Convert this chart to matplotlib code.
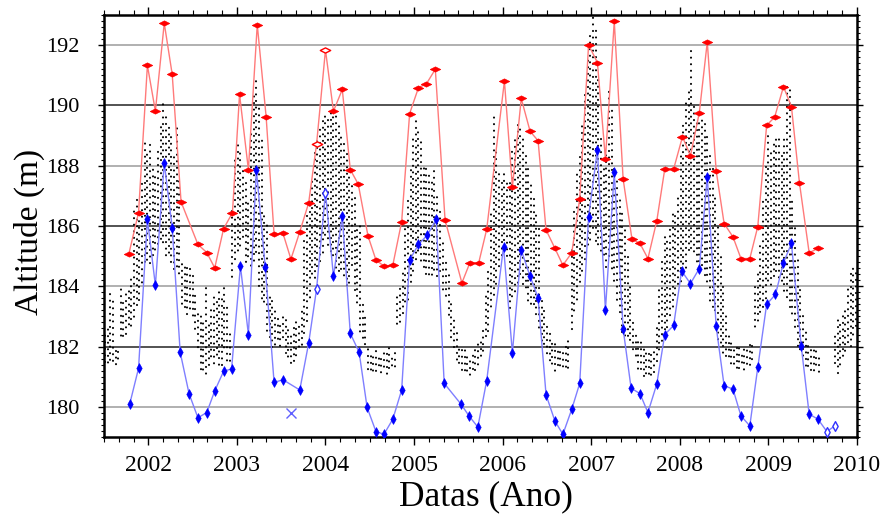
import numpy as np
import matplotlib
matplotlib.use("Agg")
import matplotlib.pyplot as plt
from matplotlib.path import Path
from matplotlib.ticker import MultipleLocator

# ---------------- data ----------------
red_t = [2001.78, 2001.89, 2001.99, 2002.08, 2002.18, 2002.27, 2002.37, 2002.56, 2002.66, 2002.75,
         2002.85, 2002.95, 2003.03, 2003.13, 2003.23, 2003.33, 2003.42, 2003.52, 2003.61, 2003.71,
         2003.81, 2003.90, 2004.00, 2004.09, 2004.19, 2004.28, 2004.37, 2004.48, 2004.57, 2004.66,
         2004.76, 2004.86, 2004.95, 2005.05, 2005.14, 2005.24, 2005.35, 2005.54, 2005.63, 2005.73,
         2005.82, 2006.02, 2006.11, 2006.21, 2006.31, 2006.40, 2006.49, 2006.59, 2006.68, 2006.78,
         2006.87, 2006.97, 2007.07, 2007.16, 2007.26, 2007.36, 2007.46, 2007.55, 2007.64, 2007.74,
         2007.83, 2007.93, 2008.03, 2008.12, 2008.22, 2008.31, 2008.41, 2008.50, 2008.60, 2008.69,
         2008.79, 2008.88, 2008.98, 2009.07, 2009.17, 2009.26, 2009.35, 2009.46, 2009.56]
red_v = [185.07, 186.44, 191.33, 189.81, 192.73, 191.03, 186.80, 185.39, 185.12, 184.61,
         185.91, 186.44, 190.37, 187.87, 192.68, 189.63, 185.73, 185.76, 184.90, 185.81,
         186.76, 188.73, 191.84, 189.81, 190.53, 187.87, 187.39, 185.67, 184.87, 184.67,
         184.70, 186.14, 189.73, 190.59, 190.72, 191.20, 186.20, 184.11, 184.78, 184.78,
         185.89, 190.81, 187.29, 190.23, 189.14, 188.83, 185.87, 185.26, 184.70, 185.11,
         186.90, 192.01, 191.42, 188.22, 192.79, 187.56, 185.56, 185.42, 184.92, 186.17,
         187.89, 187.89, 188.96, 188.33, 189.76, 192.11, 187.84, 186.08, 185.64, 184.92,
         184.92, 185.98, 189.34, 189.61, 190.62, 189.96, 187.44, 185.11, 185.26]
red_hollow_t = [2003.90, 2004.00]

blue_t = [2001.79, 2001.89, 2001.99, 2002.08, 2002.18, 2002.27, 2002.36, 2002.46, 2002.56, 2002.66,
          2002.75, 2002.85, 2002.94, 2003.04, 2003.13, 2003.22, 2003.32, 2003.42, 2003.52, 2003.71,
          2003.81, 2003.90, 2004.00, 2004.09, 2004.19, 2004.28, 2004.38, 2004.47, 2004.57, 2004.66,
          2004.76, 2004.86, 2004.95, 2005.05, 2005.15, 2005.25, 2005.34, 2005.53, 2005.62, 2005.72,
          2005.82, 2006.01, 2006.11, 2006.21, 2006.31, 2006.40, 2006.49, 2006.59, 2006.68, 2006.78,
          2006.87, 2006.97, 2007.07, 2007.16, 2007.26, 2007.36, 2007.45, 2007.55, 2007.64, 2007.74,
          2007.83, 2007.93, 2008.02, 2008.12, 2008.22, 2008.31, 2008.41, 2008.50, 2008.60, 2008.69,
          2008.79, 2008.88, 2008.98, 2009.08, 2009.17, 2009.26, 2009.37, 2009.46, 2009.56, 2009.66,
          2009.75]
blue_v = [180.09, 181.28, 186.22, 184.03, 188.09, 185.95, 181.81, 180.44, 179.64, 179.81,
          180.53, 181.18, 181.26, 184.67, 182.40, 187.87, 184.64, 180.81, 180.90, 180.56,
          182.11, 183.92, 187.11, 184.33, 186.33, 182.44, 181.81, 179.98, 179.18, 179.09,
          179.59, 180.56, 184.87, 185.39, 185.70, 186.22, 180.78, 180.09, 179.70, 179.33,
          180.87, 185.31, 181.79, 185.20, 184.33, 183.62, 180.40, 179.53, 179.09, 179.92,
          180.78, 186.31, 188.53, 183.20, 187.78, 182.59, 180.62, 180.44, 179.81, 180.76,
          182.40, 182.70, 184.51, 184.09, 184.59, 187.64, 182.67, 180.70, 180.59, 179.70,
          179.37, 181.31, 183.40, 183.73, 184.78, 185.42, 182.03, 179.76, 179.59, 179.18,
          179.37]
blue_hollow_t = [2003.90, 2004.00, 2009.66, 2009.75]
blue_cross_t = [2003.61]
blue_cross_v = [179.81]

# black dots: each satellite pass drawn as a column of dots between low and high values
dot_t = [2001.51, 2001.54, 2001.57, 2001.60, 2001.63, 2001.66, 2001.69, 2001.72, 2001.75, 2001.78,
         2001.81, 2001.84, 2001.87, 2001.90, 2001.93, 2001.96, 2001.99, 2002.02, 2002.05, 2002.08,
         2002.11, 2002.14, 2002.17, 2002.20, 2002.23, 2002.26, 2002.29, 2002.32, 2002.35, 2002.38,
         2002.41, 2002.44, 2002.47, 2002.50, 2002.53, 2002.56, 2002.59, 2002.62, 2002.65, 2002.68,
         2002.71, 2002.74, 2002.77, 2002.80, 2002.83, 2002.86, 2002.89, 2002.92, 2002.95, 2002.98,
         2003.01, 2003.04, 2003.07, 2003.10, 2003.13, 2003.16, 2003.19, 2003.22, 2003.25, 2003.28,
         2003.31, 2003.34, 2003.37, 2003.40, 2003.43, 2003.46, 2003.49, 2003.52, 2003.55, 2003.58,
         2003.61, 2003.64, 2003.67, 2003.70, 2003.73, 2003.76, 2003.79, 2003.82, 2003.85, 2003.88,
         2003.91, 2003.94, 2003.97, 2004.00, 2004.03, 2004.06, 2004.09, 2004.12, 2004.15, 2004.18,
         2004.21, 2004.24, 2004.27, 2004.30, 2004.33, 2004.36, 2004.39, 2004.42, 2004.45, 2004.48,
         2004.51, 2004.54, 2004.57, 2004.60, 2004.63, 2004.66, 2004.69, 2004.72, 2004.75, 2004.78,
         2004.81, 2004.84, 2004.87, 2004.90, 2004.93, 2004.96, 2004.99, 2005.02, 2005.05, 2005.08,
         2005.11, 2005.14, 2005.17, 2005.20, 2005.23, 2005.26, 2005.29, 2005.33, 2005.36, 2005.39,
         2005.42, 2005.45, 2005.48, 2005.51, 2005.54, 2005.57, 2005.60, 2005.63, 2005.66, 2005.69,
         2005.72, 2005.75, 2005.78, 2005.81, 2005.84, 2005.87, 2005.90, 2005.93, 2005.96, 2005.99,
         2006.02, 2006.05, 2006.08, 2006.11, 2006.14, 2006.17, 2006.20, 2006.23, 2006.26, 2006.29,
         2006.32, 2006.35, 2006.38, 2006.41, 2006.44, 2006.47, 2006.50, 2006.53, 2006.56, 2006.59,
         2006.62, 2006.65, 2006.68, 2006.71, 2006.74, 2006.78, 2006.81, 2006.84, 2006.87, 2006.90,
         2006.93, 2006.96, 2006.99, 2007.02, 2007.05, 2007.08, 2007.11, 2007.14, 2007.17, 2007.20,
         2007.23, 2007.26, 2007.29, 2007.32, 2007.35, 2007.38, 2007.41, 2007.44, 2007.47, 2007.50,
         2007.53, 2007.56, 2007.59, 2007.62, 2007.65, 2007.68, 2007.71, 2007.74, 2007.77, 2007.80,
         2007.83, 2007.86, 2007.89, 2007.92, 2007.95, 2007.98, 2008.01, 2008.04, 2008.07, 2008.10,
         2008.13, 2008.16, 2008.19, 2008.22, 2008.25, 2008.28, 2008.31, 2008.34, 2008.37, 2008.40,
         2008.43, 2008.46, 2008.49, 2008.52, 2008.55, 2008.58, 2008.61, 2008.64, 2008.67, 2008.70,
         2008.73, 2008.76, 2008.79, 2008.82, 2008.85, 2008.88, 2008.91, 2008.94, 2008.97, 2009.00,
         2009.03, 2009.06, 2009.09, 2009.12, 2009.15, 2009.18, 2009.21, 2009.24, 2009.27, 2009.30,
         2009.33, 2009.36, 2009.39, 2009.42, 2009.45, 2009.48, 2009.51, 2009.54, 2009.57, 2009.75,
         2009.78, 2009.81, 2009.84, 2009.87, 2009.90, 2009.93, 2009.96, 2009.99]
dot_lo = [181.5, 181.4, 181.4, 181.5, 181.3, 181.4, 182.3, 182.2, 182.4, 182.6,
          182.5, 182.9, 183.2, 183.5, 184.0, 184.6, 184.8, 184.6, 185.0, 185.1,
          185.2, 185.5, 185.3, 185.0, 185.0, 184.6, 184.5, 184.5, 184.4, 183.3,
          183.1, 183.0, 183.1, 183.0, 182.5, 181.8, 181.2, 181.1, 181.1, 181.3,
          181.5, 181.4, 181.6, 181.4, 181.3, 181.8, 181.5, 181.4, 184.3, 184.8,
          185.0, 185.3, 185.5, 184.8, 184.9, 184.5, 184.8, 185.0, 184.0, 183.5,
          183.3, 182.5, 182.2, 182.0, 182.0, 182.1, 182.0, 182.2, 181.8, 181.6,
          181.3, 181.5, 181.6, 181.8, 182.0, 182.3, 182.8, 183.5, 184.2, 184.2,
          184.5, 184.8, 185.0, 185.5, 185.3, 185.0, 185.0, 184.5, 184.3, 184.5,
          184.2, 184.0, 184.0, 184.5, 183.8, 183.3, 182.5, 182.2, 181.9, 181.2,
          181.1, 181.2, 181.1, 181.2, 181.1, 181.2, 181.1, 181.2, 181.2, 181.3,
          182.6, 182.8, 183.0, 183.3, 183.5, 184.0, 184.5, 184.8, 185.0, 184.8,
          184.5, 184.4, 184.3, 184.2, 184.5, 184.2, 184.5, 183.8, 183.5, 183.0,
          182.2, 182.0, 181.5, 181.3, 181.2, 181.1, 181.0, 181.0, 181.1, 181.2,
          181.3, 181.5, 181.8, 182.2, 182.5, 183.2, 183.5, 184.0, 184.5, 185.0,
          185.2, 184.8, 183.2, 183.5, 183.8, 184.0, 184.2, 184.0, 183.8, 183.5,
          183.3, 183.2, 183.0, 182.5, 182.2, 182.0, 181.6, 181.5, 181.3, 181.2,
          181.3, 181.2, 181.3, 181.2, 181.3, 182.5, 183.0, 183.5, 184.0, 184.5,
          184.8, 185.2, 185.5, 185.8, 185.5, 185.3, 185.0, 185.0, 184.5, 185.0,
          184.5, 184.0, 183.5, 183.0, 182.5, 182.3, 182.2, 182.2, 181.8, 181.5,
          181.2, 181.1, 181.0, 181.0, 180.9, 181.0, 181.0, 181.5, 181.8, 182.0,
          182.3, 182.5, 183.0, 183.2, 183.5, 184.0, 184.0, 184.5, 184.5, 185.0,
          185.2, 185.0, 184.8, 184.5, 184.5, 184.3, 184.0, 183.5, 183.2, 183.0,
          182.2, 182.0, 181.8, 181.6, 181.5, 181.4, 181.3, 181.3, 181.2, 181.3,
          181.2, 181.3, 181.4, 181.5, 182.5, 182.8, 183.0, 183.3, 183.5, 184.0,
          184.0, 184.2, 184.5, 184.2, 184.0, 183.8, 183.5, 183.3, 183.0, 182.5,
          182.0, 181.8, 181.5, 181.3, 181.2, 181.2, 181.1, 181.2, 181.1, 181.3,
          181.1, 181.3, 181.5, 181.8, 182.0, 182.0, 182.3, 182.5]
dot_hi = [182.5, 182.7, 183.8, 183.6, 182.0, 182.0, 183.9, 183.5, 183.8, 184.0,
          184.3, 186.6, 186.9, 186.5, 187.5, 188.8, 188.5, 188.9, 188.0, 187.8,
          188.5, 189.5, 190.2, 189.8, 189.3, 189.0, 188.5, 189.3, 187.5, 184.9,
          184.8, 184.7, 184.6, 184.4, 183.8, 183.2, 183.0, 182.8, 184.1, 182.9,
          183.3, 183.8, 183.5, 183.9, 183.6, 184.0, 183.3, 182.5, 186.5, 188.3,
          188.9, 188.6, 188.0, 187.5, 186.9, 189.2, 190.5, 190.8, 190.0, 189.0,
          186.5, 186.2, 183.8, 183.6, 183.2, 183.0, 182.8, 183.0, 183.0, 182.7,
          182.5, 182.8, 183.0, 182.8, 183.2, 185.5, 186.5, 186.9, 187.5, 188.5,
          189.0, 189.3, 189.5, 189.8, 189.6, 189.9, 189.9, 189.8, 189.5, 189.0,
          188.8, 188.5, 188.0, 187.5, 187.0, 186.0, 186.0, 183.5, 183.0, 182.0,
          181.9, 181.8, 181.9, 181.8, 181.7, 181.9, 181.8, 182.0, 181.8, 182.0,
          183.8, 184.1, 184.5, 186.0, 187.0, 188.0, 189.0, 189.6, 189.3, 188.8,
          188.1, 188.0, 187.8, 187.5, 188.0, 187.0, 186.5, 185.5, 184.8, 184.5,
          183.5, 183.0, 182.5, 182.1, 182.0, 181.9, 181.8, 181.7, 181.8, 181.9,
          182.1, 182.3, 182.6, 183.7, 184.5, 186.4, 189.6, 188.5, 187.9, 187.5,
          187.9, 187.5, 187.5, 188.5, 189.0, 189.5, 189.3, 189.0, 188.5, 188.0,
          187.5, 187.0, 186.5, 186.0, 183.7, 183.2, 182.8, 182.5, 182.3, 182.2,
          182.0, 182.0, 182.0, 182.1, 182.2, 185.4, 186.5, 187.9, 188.5, 189.5,
          190.5, 191.5, 192.5, 193.0, 192.5, 191.0, 189.0, 188.0, 188.5, 190.5,
          190.0, 188.0, 187.5, 187.0, 186.5, 186.0, 185.0, 184.0, 182.8, 182.5,
          182.3, 182.2, 182.0, 181.8, 181.8, 181.9, 182.0, 182.8, 184.0, 185.0,
          185.8, 185.5, 186.0, 186.5, 186.5, 187.0, 188.5, 189.5, 190.2, 190.5,
          191.9, 190.0, 189.5, 189.5, 189.9, 189.5, 189.0, 188.5, 188.0, 187.0,
          186.0, 185.0, 184.0, 183.0, 182.5, 182.2, 182.1, 182.0, 182.0, 181.9,
          182.0, 182.0, 182.1, 182.2, 184.0, 184.5, 185.5, 186.9, 188.0, 189.0,
          188.5, 188.8, 189.0, 189.1, 188.5, 189.0, 190.7, 190.5, 187.0, 186.0,
          185.0, 184.0, 183.0, 182.5, 182.2, 182.0, 182.0, 181.9, 181.8, 182.5,
          183.0, 182.8, 183.0, 183.3, 184.0, 184.5, 184.7, 184.5]

years = [2002, 2003, 2004, 2005, 2006, 2007, 2008, 2009, 2010]
alt_ticks = [180, 182, 184, 186, 188, 190, 192]

# ---------------- figure ----------------
plt.rcParams['font.family'] = ['Liberation Serif', 'DejaVu Serif']
fig = plt.figure(figsize=(8.96, 5.23), dpi=100)
ax = fig.add_axes([104/896, 86/523, (857-104)/896, (437-15)/523])

ax.set_xlim(2001.5, 2010)
ax.set_ylim(179, 193)

# grid (alternating light / dark)
for i, g in enumerate(alt_ticks):
    col = '#aaaaaa' if i % 2 == 0 else '#444444'
    ax.axhline(g, color=col, lw=1.3, zorder=0)

# black dots (columns of dots, varied phase per column)
styles = [((i * 1.93) % 3.2, (0.05, 3.1)) for i in range(len(dot_t))]
lc = ax.vlines(dot_t, dot_lo, dot_hi, colors='black', linewidths=1.5,
               linestyles=styles, zorder=2)
lc.set_capstyle('round')

red_marker = Path([(-1, 0), (0, 0.5), (1, 0), (0, -0.5), (-1, 0)],
                  [Path.MOVETO, Path.LINETO, Path.LINETO, Path.LINETO, Path.CLOSEPOLY])
blue_marker = Path([(-0.55, 0), (0, 1), (0.55, 0), (0, -1), (-0.55, 0)],
                   [Path.MOVETO, Path.LINETO, Path.LINETO, Path.LINETO, Path.CLOSEPOLY])

ax.plot(red_t, red_v, color='#ff7a7a', lw=1.0, zorder=3)
ax.plot(blue_t, blue_v, color='#7f7fff', lw=1.0, zorder=3)

red_solid = [(t, v) for t, v in zip(red_t, red_v) if t not in red_hollow_t]
red_open = [(t, v) for t, v in zip(red_t, red_v) if t in red_hollow_t]
blue_solid = [(t, v) for t, v in zip(blue_t, blue_v) if t not in blue_hollow_t]
blue_open = [(t, v) for t, v in zip(blue_t, blue_v) if t in blue_hollow_t]

ax.plot([p[0] for p in red_solid], [p[1] for p in red_solid], ls='none',
        marker=red_marker, ms=7.5, mfc='#ff0000', mec='#ff0000', mew=0.5, zorder=4)
ax.plot([p[0] for p in red_open], [p[1] for p in red_open], ls='none',
        marker=red_marker, ms=7.5, mfc='white', mec='#ff0000', mew=1.0, zorder=4)
ax.plot([p[0] for p in blue_solid], [p[1] for p in blue_solid], ls='none',
        marker=blue_marker, ms=7, mfc='#0000ff', mec='#0000ff', mew=0.5, zorder=4)
ax.plot([p[0] for p in blue_open], [p[1] for p in blue_open], ls='none',
        marker=blue_marker, ms=7, mfc='white', mec='#3030ff', mew=1.0, zorder=4)
ax.plot(blue_cross_t, blue_cross_v, ls='none', marker='x', ms=7, mec='#6060ff',
        mew=1.0, zorder=4)

# ticks
ax.set_xticks(years)
ax.set_xticklabels([str(y) for y in years])
ax.xaxis.set_minor_locator(MultipleLocator(1/6))
ax.set_yticks(alt_ticks)
ax.set_yticklabels([str(a) for a in alt_ticks])
ax.yaxis.set_minor_locator(MultipleLocator(0.2))
ax.tick_params(axis='both', which='both', direction='out', top=True, right=True,
               labeltop=False, labelright=False, color='black')
ax.tick_params(axis='x', which='major', length=6, width=1.0, labelsize=17, pad=7)
ax.tick_params(axis='x', which='minor', length=3.5, width=0.8)
ax.tick_params(axis='y', which='major', length=4, width=1.0, labelsize=16, pad=14)
ax.tick_params(axis='y', which='minor', length=2.5, width=0.8)
for s in ax.spines.values():
    s.set_linewidth(1.8)

ax.set_xlabel('Datas (Ano)', fontsize=25.5)
ax.xaxis.set_label_coords((486 - 104) / 753, -(480 - 437) / 422)
ax.xaxis.label.set_verticalalignment('top')
ax.set_ylabel('Altitude (m)', fontsize=24)
ax.yaxis.set_label_coords((29 - 104) / 753, 0.486)
ax.yaxis.label.set_verticalalignment('center')

fig.savefig('out.png', dpi=100)
